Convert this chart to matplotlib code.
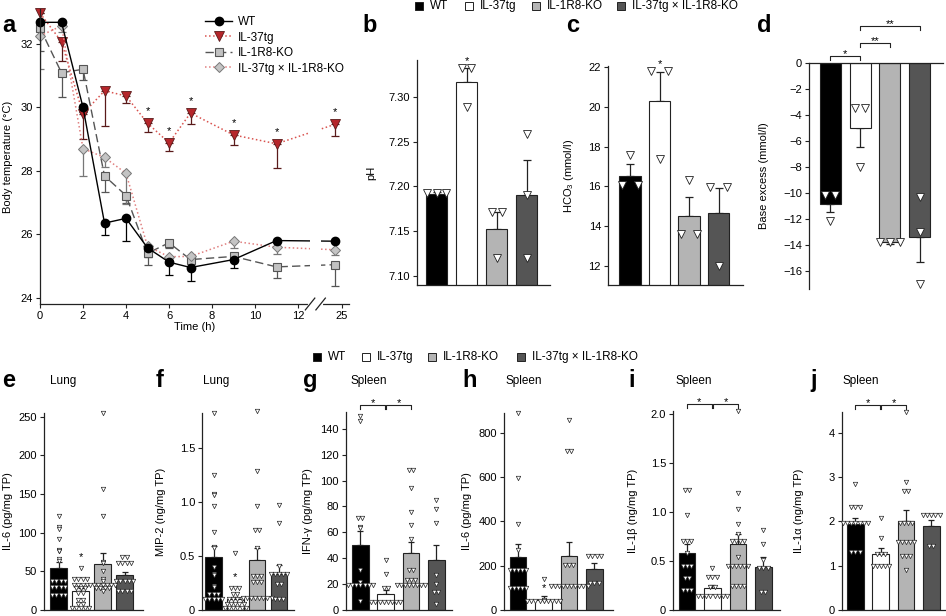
import matplotlib
matplotlib.use("Agg")
import matplotlib.pyplot as plt
from matplotlib.patches import Rectangle
from collections import Counter, defaultdict

plt.rcParams['font.family'] = ['Liberation Sans', 'DejaVu Sans']
plt.rcParams['font.size'] = 8
plt.rcParams['mathtext.default'] = 'regular'

# ---- data: panel a (body temperature) ----
time_h = [0, 1, 2, 3, 4, 5, 6, 7, 9, 11, 25]
wt_temp = [32.68, 32.68, 30.0, 26.35, 26.5, 25.57, 25.12, 24.95, 25.2, 25.8, 25.78]
wt_err = [0, 0, 0.15, 0.37, 0.72, 0.3, 0.42, 0.42, 0.25, 0, 0]
tg_temp = [32.97, 32.07, 29.8, 30.52, 30.36, 29.5, 28.88, 29.82, 29.13, 28.85, 29.46]
tg_err = [0, 0.6, 0.8, 1.1, 0.22, 0.27, 0.25, 0.36, 0.33, 0.75, 0.35]
ko_temp = [32.5, 31.09, 31.2, 27.84, 27.22, 25.4, 25.73, 25.2, 25.3, 24.97, 25.04]
ko_err = [0.72, 0.76, 0.35, 0.5, 0.25, 0.37, 0.15, 0.1, 0.1, 0.36, 0.67]
dko_temp = [32.25, 32.57, 28.7, 28.42, 27.92, 25.62, 25.29, 25.3, 25.78, 25.59, 25.51]
dko_err = [1.05, 0.2, 0.87, 0.3, 0.97, 0.2, 0.1, 0.1, 0.2, 0.2, 0.15]
star_times = [5, 6, 7, 9, 11, 25]

groups = ['WT', 'IL-37tg', 'IL-1R8-KO', 'IL-37tg × IL-1R8-KO']

# ---- data: panels b-d (blood gas) ----
ph_mean = [7.192, 7.317, 7.153, 7.190]
ph_sem = [0.002, 0.015, 0.018, 0.04]
ph_pts = [[7.193, 7.193, 7.193], [7.332, 7.332, 7.289], [7.171, 7.171, 7.12], [7.259, 7.19, 7.12]]

hco3_mean = [16.55, 20.3, 14.5, 14.65]
hco3_sem = [0.6, 1.45, 0.95, 1.25]
hco3_pts = [[17.6, 16.05, 16.05], [21.8, 21.8, 17.4], [16.3, 13.6, 13.6], [15.95, 15.95, 12.0]]

be_mean = [-10.85, -5.0, -13.75, -13.4]
be_sem = [0.65, 1.5, 0.2, 1.9]
be_pts = [[-10.2, -10.2, -12.2], [-3.5, -3.5, -8.0], [-13.8, -13.8, -13.8], [-10.3, -13.0, -17.0]]

# ---- data: panels e-j (cytokines) ----
lung_il6_mean = [54.4, 24.6, 59.6, 45.3]
lung_il6_sem = [7.5, 4, 14, 3.8]
lung_il6_pts = [
    [122, 107, 105, 92, 78, 77, 76, 66, 64, 37, 37, 37, 37, 30, 30, 30, 30, 19, 19, 19, 19],
    [54, 40, 40, 40, 40, 33, 33, 33, 33, 28, 28, 28, 22, 22, 13, 13, 8, 8, 2, 2, 2, 2, 2],
    [255, 157, 122, 62, 61, 51, 40, 38, 33, 33, 33, 33, 33, 33, 33, 28, 28, 28, 28, 25],
    [68, 68, 61, 61, 61, 61, 37, 37, 37, 37, 37, 25, 25, 25, 25],
]
mip2_mean = [0.49, 0.10, 0.46, 0.335]
mip2_sem = [0.1, 0.02, 0.11, 0.08]
mip2_pts = [
    [1.82, 1.25, 1.07, 1.06, 0.96, 0.72, 0.58, 0.57, 0.40, 0.33, 0.32, 0.22, 0.21,
     0.15, 0.15, 0.15, 0.10, 0.10, 0.10, 0.10, 0.10],
    [0.53, 0.20, 0.20, 0.20, 0.15, 0.15, 0.10, 0.10, 0.10, 0.10, 0.06, 0.06, 0.06, 0.06, 0.06,
     0.02, 0.02, 0.02, 0.02, 0.02, 0.02],
    [1.84, 1.28, 0.96, 0.74, 0.74, 0.57, 0.31, 0.31, 0.31, 0.26, 0.26, 0.26,
     0.11, 0.11, 0.11, 0.11, 0.11, 0.11, 0.11, 0.11],
    [0.97, 0.80, 0.41, 0.33, 0.33, 0.33, 0.33, 0.33, 0.24, 0.24, 0.10, 0.10, 0.10],
]
ifng_mean = [50.1, 12.4, 44.4, 38.8]
ifng_sem = [10.6, 3.1, 8.0, 11.6]
ifng_pts = [
    [150, 146, 71, 71, 64, 63, 31, 22, 19, 19, 19, 19, 19, 19, 19, 7],
    [39, 28, 17, 17, 6, 6, 6, 6, 6, 6, 6, 6],
    [108, 108, 94, 76, 66, 55, 31, 31, 23, 23, 23, 19, 19, 19, 19, 19, 19, 19, 19],
    [85, 78, 67, 27, 20, 14, 14, 5],
]
spl_il6_mean = [240, 45, 245, 185]
spl_il6_sem = [58, 17, 60, 27]
spl_il6_pts = [
    [890, 598, 387, 270, 180, 180, 180, 180, 180, 100, 100, 100, 100, 100],
    [140, 45, 42, 42, 42, 42, 42, 42, 42, 42, 42],
    [860, 720, 720, 205, 205, 205, 110, 110, 110, 110, 110, 110, 110, 110, 110, 110],
    [245, 245, 245, 245, 120, 120, 120],
]
il1b_mean = [0.58, 0.22, 0.675, 0.436]
il1b_sem = [0.095, 0.03, 0.105, 0.1]
il1b_pts = [
    [1.22, 1.22, 0.97, 0.70, 0.70, 0.70, 0.58, 0.45, 0.45, 0.45, 0.33, 0.33, 0.20, 0.20, 0.20],
    [0.43, 0.34, 0.34, 0.34, 0.23, 0.23, 0.14, 0.14, 0.14, 0.14, 0.14, 0.14, 0.14, 0.14],
    [2.03, 1.19, 1.03, 0.88, 0.78, 0.70, 0.70, 0.70, 0.70, 0.54,
     0.45, 0.45, 0.45, 0.45, 0.45, 0.45, 0.24, 0.24, 0.24, 0.24],
    [0.82, 0.67, 0.51, 0.43, 0.43, 0.43, 0.18, 0.18],
]
il1a_mean = [1.95, 1.27, 2.02, 1.90]
il1a_sem = [0.13, 0.12, 0.23, 0.13]
il1a_pts = [
    [2.85, 2.33, 2.33, 2.33, 1.97, 1.97, 1.97, 1.97, 1.97, 1.97, 1.97, 1.31, 1.31, 1.31],
    [2.08, 1.62, 1.27, 1.27, 1.27, 1.0, 1.0, 1.0, 1.0, 1.0],
    [4.47, 2.9, 2.68, 2.68, 1.97, 1.97, 1.97, 1.97, 1.53, 1.53, 1.53, 1.53, 1.53,
     1.22, 1.22, 1.22, 0.9],
    [2.14, 2.14, 2.14, 2.14, 2.14, 1.45, 1.45],
]

# ---- figure ----
W, H = 946, 616
fig = plt.figure(figsize=(W / 100, H / 100), dpi=100)
bar_colors = ['black', 'white', '#b4b4b4', '#555555']
ink = '#222222'


def add_ax(l, t, r, b):
    return fig.add_axes([l / W, 1 - b / H, (r - l) / W, (b - t) / H])


def fxy(x, y):
    return x / W, 1 - y / H


def base_style(ax):
    ax.spines['top'].set_visible(False)
    ax.spines['right'].set_visible(False)
    for s in ['left', 'bottom', 'top']:
        ax.spines[s].set_linewidth(0.9)
        ax.spines[s].set_color(ink)
    ax.tick_params(axis='y', length=3, width=0.8, pad=2, color=ink)
    ax.set_facecolor('none')


def spread(vals, center, step):
    counts = Counter(vals)
    seen = defaultdict(int)
    xs = []
    for v in vals:
        k = seen[v]
        seen[v] += 1
        xs.append(center + (k - (counts[v] - 1) / 2) * step)
    return xs


def bar_panel(ax, means, sems, pts, width, step, ms, cap, ylim, xlim, ticks, ticklabels, mew=0.6):
    base_style(ax)
    x = range(len(means))
    ax.bar(x, means, width=width, color=bar_colors, edgecolor=ink, linewidth=0.8, zorder=2)
    for i, (m, s) in enumerate(zip(means, sems)):
        yerr = [[s], [0]] if m < 0 else [[0], [s]]
        ax.errorbar([i], [m], yerr=yerr, fmt='none', ecolor=ink, elinewidth=0.9,
                    capsize=cap, capthick=0.9, zorder=1.5)
        ax.plot(spread(pts[i], i, step), pts[i], linestyle='none', marker='v', ms=ms,
                mfc='white', mec=ink, mew=mew, zorder=3, clip_on=False)
    ax.set_ylim(*ylim)
    ax.set_xlim(*xlim)
    ax.set_xticks([])
    ax.set_yticks(ticks)
    ax.set_yticklabels(ticklabels)


def bracket(ax, x1, x2, y, drop, label):
    tr = ax.get_xaxis_transform()
    ax.plot([x1, x1, x2, x2], [y - drop, y, y, y - drop], color=ink, lw=0.8,
            transform=tr, clip_on=False)
    ax.text((x1 + x2) / 2, y + drop * 0.6, label, ha='center', va='center',
            fontsize=8, transform=tr)


def legend_row(y, items):
    for xs, fc, txt in items:
        fig.patches.append(Rectangle(fxy(xs, y + 4), 8 / W, 8 / H, transform=fig.transFigure,
                                     fc=fc, ec=ink, lw=0.7))
        fig.text(*fxy(xs + 15, y), txt, va='center', ha='left', fontsize=8.5)


def ylabel_at(ax, text, xpx, l, r):
    ax.set_ylabel(text)
    ax.yaxis.set_label_coords((xpx - l) / (r - l), 0.5)


# panel a
la, ta, ra, ba = 40, 9, 349, 304
ax = add_ax(la, ta, ra, ba)
base_style(ax)
break_pos = 13.7
xpos = [t if t <= 12 else break_pos for t in time_h]
series = [
    (wt_temp, wt_err, dict(color='black', ls='-', lw=1.0, marker='o', ms=6, mfc='black', mec='black')),
    (tg_temp, tg_err, dict(color='#d9534f', ls=':', lw=1.1, marker='v', ms=6.5, mfc='#b5262b', mec='#5a1a1a', mew=0.6)),
    (ko_temp, ko_err, dict(color='#555555', ls=(0, (6, 3)), lw=1.0, marker='s', ms=5.5, mfc='#c2c2c2', mec='#555555', mew=0.8)),
    (dko_temp, dko_err, dict(color='#e08080', ls=':', lw=1.1, marker='D', ms=5, mfc='#c4c4c4', mec='#777777', mew=0.7)),
]
handles = []
for (vals, errs, kw), name in zip(series, groups):
    ax.errorbar(xpos, vals, yerr=[errs, [0] * len(errs)], fmt='none', ecolor=kw['mec'] if name != 'WT' else 'black',
                elinewidth=0.9, capsize=3, capthick=0.9, zorder=1.8)
    h, = ax.plot(xpos, vals, zorder=2 if name != 'WT' else 2.05, clip_on=False, **kw)
    handles.append(h)
blo, bhi = 12.56, 13.05
ax.axvspan(blo, bhi, color='white', zorder=2.3, lw=0)
ax.plot([blo, bhi], [0, 0], color='white', lw=3, transform=ax.get_xaxis_transform(), clip_on=False, zorder=3)
for xb in (blo, bhi):
    ax.plot([xb - 0.22, xb + 0.22], [-0.02, 0.02], color=ink, lw=0.9,
            transform=ax.get_xaxis_transform(), clip_on=False, zorder=3)
for t in star_times:
    i = time_h.index(t)
    ax.text(xpos[i], tg_temp[i] + 0.38, '*', ha='center', va='center', fontsize=8)
ax.set_xlim(0, 14.37)
ax.set_ylim(23.8, 33.1)
ax.set_yticks([24, 26, 28, 30, 32])
ax.set_xticks([0, 2, 4, 6, 8, 10, 12, 14.05])
ax.set_xticklabels(['0', '2', '4', '6', '8', '10', '12', '25'])
ax.tick_params(axis='x', length=3, width=0.8, pad=2, color=ink)
ax.set_xlabel('Time (h)', labelpad=1)
ylabel_at(ax, 'Body temperature (°C)', 13, la, ra)
ax.legend(handles, groups, loc='upper left', bbox_to_anchor=((205 - la) / (ra - la), (ba - 16) / (ba - ta)),
          frameon=False, handlelength=2.3, handletextpad=0.5, labelspacing=0.3, borderpad=0,
          borderaxespad=0, fontsize=8.5)

# panel b
lb, tb, rb, bb = 417, 60, 550, 285
ax = add_ax(lb, tb, rb, bb)
bar_panel(ax, ph_mean, ph_sem, ph_pts, 0.7, 0.33, 6, 3, (7.09, 7.341), (-0.65, 3.78),
          [7.10, 7.15, 7.20, 7.25, 7.30], ['7.10', '7.15', '7.20', '7.25', '7.30'])
ax.text(1, 0.995, '*', ha='center', va='center', fontsize=8, transform=ax.get_xaxis_transform())
ylabel_at(ax, 'pH', 376, lb, rb)

# panel c
lc, tc, rc, bc = 608, 66, 743, 285
ax = add_ax(lc, tc, rc, bc)
bar_panel(ax, hco3_mean, hco3_sem, hco3_pts, 0.73, 0.55, 6, 3, (11.05, 22.05), (-0.75, 3.83),
          [12, 14, 16, 18, 20, 22], ['12', '14', '16', '18', '20', '22'])
ax.text(1, 1.01, '*', ha='center', va='center', fontsize=8, transform=ax.get_xaxis_transform())
ylabel_at(ax, 'HCO$_3$ (mmol/l)', 576, lc, rc)

# panel d
ld, td, rd, bd = 809, 63, 943, 289
ax = add_ax(ld, td, rd, bd)
bar_panel(ax, be_mean, be_sem, be_pts, 0.71, 0.34, 6, 3, (-17.4, 0), (-0.72, 3.79),
          list(range(0, -17, -2)), ['0'] + ['−%d' % v for v in range(2, 17, 2)])
ax.spines['bottom'].set_visible(False)
ax.spines['top'].set_visible(True)
hd = bd - td
bracket(ax, 0, 1, 1 + 7 / hd, 4 / hd, '*')
bracket(ax, 1, 2, 1 + 20 / hd, 4 / hd, '**')
bracket(ax, 1, 3, 1 + 37 / hd, 4 / hd, '**')
ylabel_at(ax, 'Base excess (mmol/l)', 769, ld, rd)

legend_row(6, [(415, bar_colors[0], groups[0]), (465, bar_colors[1], groups[1]),
               (532, bar_colors[2], groups[2]), (617, bar_colors[3], groups[3])])

# bottom row
bottom = [
    # l, t, r, b, mean, sem, pts, ylim, ticks, labels, xlim, ylabel, label x, pitch
    (44, 413, 143, 610, lung_il6_mean, lung_il6_sem, lung_il6_pts, (0, 255),
     [0, 50, 100, 150, 200, 250], None, (-0.66, 3.84), 'IL-6 (pg/mg TP)', 13, 22),
    (202, 413, 294, 610, mip2_mean, mip2_sem, mip2_pts, (0, 1.82),
     [0, 0.5, 1.0, 1.5], ['0', '0.5', '1.0', '1.5'], (-0.53, 3.69), 'MIP-2 (ng/mg TP)', 166, 21.8),
    (346, 412, 452, 610, ifng_mean, ifng_sem, ifng_pts, (0, 153),
     [0, 20, 40, 60, 80, 100, 120, 140], None, (-0.57, 3.62), 'IFN-γ (pg/mg TP)', 313, 25.3),
    (504, 413, 613, 610, spl_il6_mean, spl_il6_sem, spl_il6_pts, (0, 890),
     [0, 200, 400, 600, 800], None, (-0.56, 3.73), 'IL-6 (pg/mg TP)', 472, 25.4),
    (673, 411, 780, 610, il1b_mean, il1b_sem, il1b_pts, (0, 2.03),
     [0, 0.5, 1.0, 1.5, 2.0], ['0', '0.5', '1.0', '1.5', '2.0'], (-0.55, 3.65), 'IL-1β (ng/mg TP)', 638, 25.5),
    (842, 412, 946, 610, il1a_mean, il1a_sem, il1a_pts, (0, 4.47),
     [0, 1, 2, 3, 4], None, (-0.53, 3.58), 'IL-1α (ng/mg TP)', 804, 25.3),
]
bottom_axes = []
for l, t, r, b, m, s, p, yl, tk, tl, xl, lab, lx, pitch in bottom:
    ax = add_ax(l, t, r, b)
    bar_panel(ax, m, s, p, 16.5 / pitch, 4.1 / pitch, 3.2, 2, yl, xl, tk,
              tl if tl else [str(v) for v in tk], mew=0.5)
    ylabel_at(ax, lab, lx, l, r)
    bottom_axes.append((ax, b - t))

# stars within IL-37tg columns (e, f, h)
for (ax, _), yv in zip([bottom_axes[0], bottom_axes[1], bottom_axes[3]], [68, 0.30, 100]):
    ax.text(1, yv, '*', ha='center', va='center', fontsize=8, zorder=4)
# brackets (g, i, j)
for ax, hh in [bottom_axes[2], bottom_axes[4], bottom_axes[5]]:
    bracket(ax, 0, 0.97, 1 + 7 / hh, 4 / hh, '*')
    bracket(ax, 1.03, 2, 1 + 7 / hh, 4 / hh, '*')

legend_row(357, [(313, bar_colors[0], groups[0]), (362, bar_colors[1], groups[1]),
                 (428, bar_colors[2], groups[2]), (517, bar_colors[3], groups[3])])

# panel letters and titles
for letter, x, y in [('a', 2, 32), ('b', 362, 32), ('c', 566, 32), ('d', 757, 32),
                     ('e', 2, 387), ('f', 156, 387), ('g', 303, 387), ('h', 462, 387),
                     ('i', 628, 387), ('j', 810, 387)]:
    fig.text(*fxy(x, y), letter, fontsize=17, fontweight='bold', ha='left', va='baseline')
for title, x in [('Lung', 50), ('Lung', 203), ('Spleen', 350), ('Spleen', 506),
                 ('Spleen', 675), ('Spleen', 842)]:
    fig.text(*fxy(x, 381), title, fontsize=8.5, ha='left', va='center')

fig.savefig('out.png', dpi=100)
